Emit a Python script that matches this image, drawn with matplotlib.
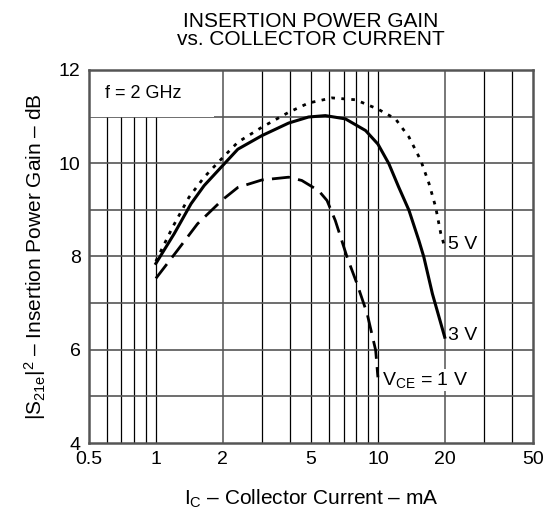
import matplotlib.pyplot as plt
from matplotlib.patches import Rectangle

plt.rcParams['font.family'] = ['Liberation Sans', 'DejaVu Sans']
plt.rcParams['mathtext.fontset'] = 'custom'
plt.rcParams['mathtext.rm'] = 'Liberation Sans'
plt.rcParams['mathtext.it'] = 'Liberation Sans'

# Collector current (mA) and insertion power gain (dB)
ic_5v = [1, 1.19, 1.41, 1.65, 2, 2.34, 3, 3.96, 4.87, 6.21, 7.93, 10, 12, 13.8, 15.6, 17.0, 18.2, 19.2, 20]
gain_5v = [7.9, 8.63, 9.27, 9.7, 10.12, 10.45, 10.77, 11.09, 11.29, 11.4, 11.36, 11.16, 10.95, 10.56, 10.06, 9.56, 9.06, 8.49, 8.2]

ic_3v = [1, 1.21, 1.44, 1.65, 2, 2.34, 3, 3.96, 4.87, 5.8, 7.14, 8.8, 10, 11.2, 12.4, 13.8, 15.3, 16.1, 17.6, 20]
gain_3v = [7.85, 8.49, 9.13, 9.52, 9.95, 10.3, 10.59, 10.86, 10.99, 11.02, 10.95, 10.7, 10.41, 9.99, 9.49, 8.99, 8.34, 7.99, 7.2, 6.27]

ic_1v = [1, 1.25, 1.54, 2, 2.34, 3, 3.96, 4.54, 5.41, 5.9, 6.43, 7.26, 8.06, 8.95, 9.77, 10]
gain_1v = [7.53, 8.13, 8.7, 9.22, 9.48, 9.64, 9.7, 9.63, 9.41, 9.2, 8.77, 7.99, 7.41, 6.77, 5.99, 5.41]

x_ticks = [0.5, 1, 2, 5, 10, 20, 50]
x_ticklabels = ['0.5', '1', '2', '5', '10', '20', '50']
y_ticks = [4, 6, 8, 10, 12]

fig = plt.figure(figsize=(5.53, 5.14), dpi=100)
ax = fig.add_axes([0.161, 0.138, 0.803, 0.726])
ax.set_xscale('log')
ax.set_xlim(0.5, 50)
ax.set_ylim(4, 12)

# grid: thin black lines, the 2 / 20 and horizontal ones grey
for v in [0.6, 0.7, 0.8, 0.9, 1, 3, 4, 5, 6, 7, 8, 9, 10, 30, 40]:
    ax.axvline(v, color='black', lw=0.9, zorder=1)
for v in [2, 20]:
    ax.axvline(v, color='#777777', lw=1.4, zorder=1)
for v in range(5, 12):
    ax.axhline(v, color='#555555', lw=1.2, zorder=1)

# blank area behind the frequency note
ax.add_patch(Rectangle((0.5, 11), 1.32, 1, fc='white', ec='none', zorder=2))
ax.text(0.59, 11.5, 'f = 2 GHz', fontsize=13, va='center', zorder=3)

ax.plot(ic_5v, gain_5v, color='black', lw=2, ls=(0, (1.3, 2.3)), zorder=4)
ax.plot(ic_3v, gain_3v, color='black', lw=2.2, zorder=4)
ax.plot(ic_1v, gain_1v, color='black', lw=2, ls=(0, (6.5, 3)), zorder=4)

box = dict(fc='white', ec='none', pad=1)
ax.text(20.6, 8.25, '5 V', fontsize=14, va='center', bbox=box, zorder=3)
ax.text(20.6, 6.3, '3 V', fontsize=14, va='center', bbox=box, zorder=3)
ax.text(10.4, 5.35, r'V$_{\mathrm{CE}}$ = 1 V', fontsize=14, va='center', bbox=box, zorder=3)

ax.set_xticks(x_ticks)
ax.set_xticklabels(x_ticklabels)
ax.minorticks_off()
ax.set_yticks(y_ticks)
ax.tick_params(length=0, labelsize=14, pad=6)

for s in ax.spines.values():
    s.set_color('#555555')
    s.set_linewidth(1.8)
    s.set_zorder(5)

ax.set_xlabel(r'I$_{\mathrm{C}}$ – Collector Current – mA', fontsize=15, labelpad=14)
ax.set_ylabel(r'|S$_{\mathrm{21e}}$|$^{\mathrm{2}}$ – Insertion Power Gain – dB', fontsize=15, labelpad=8)
ax.set_title('INSERTION POWER GAIN\nvs. COLLECTOR CURRENT', fontsize=15, linespacing=0.95, pad=18)

fig.savefig('out.png', dpi=100)
